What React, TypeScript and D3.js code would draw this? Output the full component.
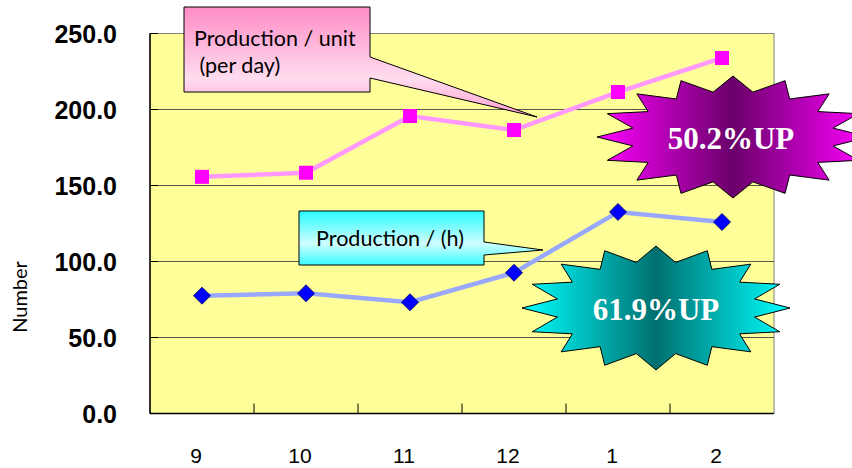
import * as d3 from 'd3'

const months = ['9', '10', '11', '12', '1', '2']
const perDay = [155.7, 158.4, 195.7, 186.5, 211.5, 233.9]
const perHour = [77.5, 79.1, 73.2, 92.6, 132.6, 126.0]
const yTicks = [0, 50, 100, 150, 200, 250]
const dayLabel = ['Production / unit', ' (per day)']
const hourLabel = 'Production / (h)'
const dayGain = '50.2%UP'
const hourGain = '61.9%UP'

const W = 852
const H = 468
const margin = {top: 33.5, right: 78, bottom: 54.5, left: 150}
const innerW = W - margin.left - margin.right
const innerH = H - margin.top - margin.bottom

// 16-point star, like the office "seal" shape
function starPath(cx: number, cy: number, rx: number, ry: number) {
  const pts: [number, number][] = []
  for (let i = 0; i < 32; i++) {
    const a = (i * Math.PI) / 16
    const r = i % 2 === 0 ? 1 : 0.75
    pts.push([cx + rx * r * Math.cos(a), cy - ry * r * Math.sin(a)])
  }
  return 'M' + pts.map(p => p.join(',')).join('L') + 'Z'
}

export default function App() {
  const x = d3.scaleBand().domain(months).range([0, innerW])
  const y = d3.scaleLinear().domain([0, 250]).range([innerH, 0])
  const cx = (m: string) => (x(m) ?? 0) + x.bandwidth() / 2

  const lineGen = d3
    .line<number>()
    .x((_, i) => cx(months[i]))
    .y(d => y(d))

  return (
    <svg width={W} height={H} style={{position: 'absolute', left: 0, top: 0}}>
      <defs>
        <linearGradient id="pinkBox" x1="0" y1="0" x2="0" y2="1">
          <stop offset="0" stopColor="#ff8cc6" />
          <stop offset="0.65" stopColor="#ffdcee" />
          <stop offset="1" stopColor="#ff9fd0" />
        </linearGradient>
        <linearGradient id="cyanBox" x1="0" y1="0" x2="0" y2="1">
          <stop offset="0" stopColor="#2afbff" />
          <stop offset="0.6" stopColor="#cffeff" />
          <stop offset="1" stopColor="#3afbff" />
        </linearGradient>
        <linearGradient id="purpleStar" x1="0" y1="0" x2="1" y2="0">
          <stop offset="0" stopColor="#ff00ff" />
          <stop offset="0.5" stopColor="#6a006a" />
          <stop offset="1" stopColor="#ff00ff" />
        </linearGradient>
        <linearGradient id="tealStar" x1="0" y1="0" x2="1" y2="0">
          <stop offset="0" stopColor="#00ffff" />
          <stop offset="0.5" stopColor="#007070" />
          <stop offset="1" stopColor="#00ffff" />
        </linearGradient>
      </defs>

      <g transform={`translate(${margin.left},${margin.top})`}>
        <rect width={innerW} height={innerH} fill="#ffff99" stroke="#808080" strokeWidth={1} />
        {yTicks.slice(1, -1).map(t => (
          <line key={t} x1={0} x2={innerW} y1={y(t)} y2={y(t)} stroke="#5a5a48" strokeWidth={1.2} />
        ))}
        {yTicks.map(t => (
          <g key={t}>
            <line x1={0} x2={8} y1={y(t)} y2={y(t)} stroke="#000" />
            <text
              x={-33}
              y={y(t) + 9}
              textAnchor="end"
              fontFamily="Liberation Sans, Arial, sans-serif"
              fontWeight="bold"
              fontSize={25}
              fill="#000"
            >
              {t.toFixed(1)}
            </text>
          </g>
        ))}
        {months.slice(1).map(m => (
          <line key={m} x1={x(m)} x2={x(m)} y1={innerH} y2={innerH - 10} stroke="#000" />
        ))}
        <line x1={0} x2={innerW} y1={innerH} y2={innerH} stroke="#000" strokeWidth={1.5} />
        <line x1={0} x2={0} y1={0} y2={innerH} stroke="#000" strokeWidth={1.5} />
        {months.map(m => (
          <text
            key={m}
            x={cx(m) - 6}
            y={innerH + 49}
            textAnchor="middle"
            fontFamily="Liberation Sans Narrow, Arial Narrow, sans-serif"
            fontSize={21}
            fill="#000"
          >
            {m}
          </text>
        ))}

        <path d={lineGen(perDay) ?? ''} fill="none" stroke="#ff99ff" strokeWidth={4.5} />
        <path d={lineGen(perHour) ?? ''} fill="none" stroke="#99a8ff" strokeWidth={4.5} />
        {perDay.map((v, i) => (
          <rect key={i} x={cx(months[i]) - 7} y={y(v) - 7} width={14} height={14} fill="#ff00ff" />
        ))}
        {perHour.map((v, i) => (
          <rect
            key={i}
            x={-6}
            y={-6}
            width={12}
            height={12}
            transform={`translate(${cx(months[i])},${y(v)}) rotate(45)`}
            fill="#0000ff"
            stroke="#000066"
            strokeWidth={0.8}
          />
        ))}
      </g>

      <text
        transform="translate(27,297) rotate(-90)"
        textAnchor="middle"
        fontFamily="Lato, sans-serif"
        fontSize={20}
        fill="#000"
      >
        Number
      </text>

      <path
        d="M184,7H370V57L537,117L370,78V92H184Z"
        fill="url(#pinkBox)"
        stroke="#000"
        strokeWidth={1}
      />
      <text fontFamily="Lato, sans-serif" fontSize={21.5} fill="#000">
        <tspan x={194} y={46}>{dayLabel[0]}</tspan>
        <tspan x={194} y={73} style={{whiteSpace: 'pre'}}>{dayLabel[1]}</tspan>
      </text>

      <path
        d="M299,211H484V242L543,250L484,255V265H299Z"
        fill="url(#cyanBox)"
        stroke="#000"
        strokeWidth={1}
      />
      <text x={390} y={246} textAnchor="middle" fontFamily="Lato, sans-serif" fontSize={21.5} fill="#000">
        {hourLabel}
      </text>

      <path d={starPath(733, 137, 136, 61)} fill="url(#purpleStar)" stroke="#000" strokeWidth={1} />
      <text
        x={731}
        y={149}
        textAnchor="middle"
        fontFamily="Liberation Serif, Times New Roman, serif"
        fontWeight="bold"
        fontSize={31}
        fill="#fff"
      >
        {dayGain}
      </text>

      <path d={starPath(656, 308, 134, 62)} fill="url(#tealStar)" stroke="#000" strokeWidth={1} />
      <text
        x={656}
        y={320}
        textAnchor="middle"
        fontFamily="Liberation Serif, Times New Roman, serif"
        fontWeight="bold"
        fontSize={31}
        fill="#fff"
      >
        {hourGain}
      </text>
    </svg>
  )
}
